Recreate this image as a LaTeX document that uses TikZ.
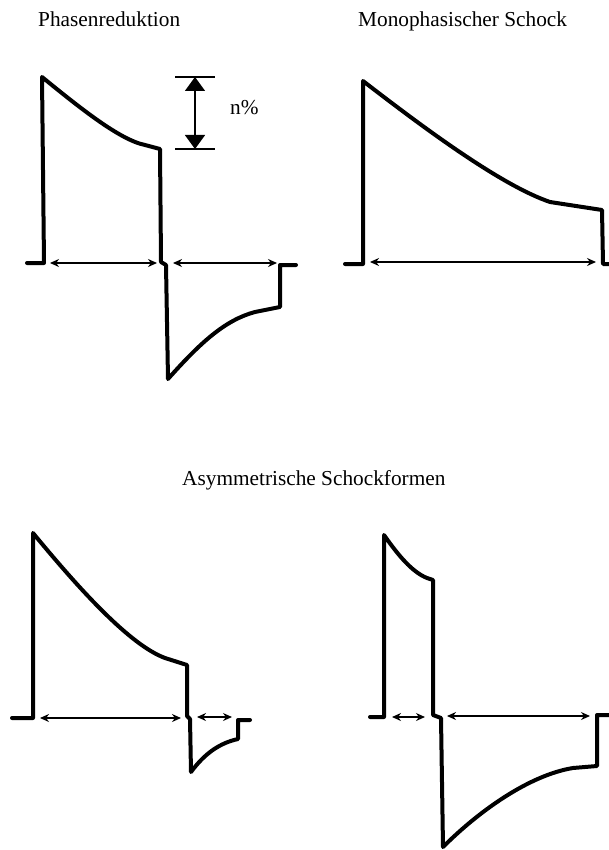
\documentclass[tikz,border=0pt]{standalone}
\usepackage{fontspec}
\setmainfont{Liberation Serif}
\usetikzlibrary{arrows.meta}
\begin{document}
\begin{tikzpicture}[x=1pt,y=-1pt,
  wave/.style={line width=4pt,line join=round,line cap=round},
  dur/.style={line width=1.4pt,{Stealth[length=9pt,width=8pt]}-{Stealth[length=9pt,width=8pt]}},
  ampl/.style={line width=1.4pt,{Triangle[length=14pt,width=20pt]}-{Triangle[length=14pt,width=20pt]}},
  bar/.style={line width=1.4pt},
  title/.style={inner sep=0pt,anchor=base west,font=\fontsize{21.3}{23}\selectfont}]
\useasboundingbox (0,0) rectangle (608,850);

% titles
\node[title] (t1) at (38,27) {Phasenreduktion};
\node[title] (t2) at (358,27) {Monophasischer Schock};
\node[title] (t3) at (182,485) {Asymmetrische Schockformen};

% ---- Panel 1: Phasenreduktion
\draw[wave] (27,263) -- (44,263) -- (42,77)
  .. controls (80,108) and (120,140) .. (145,145) -- (160,149)
  -- (161,262) -- (166,265) -- (168,379)
  .. controls (200,343) and (225,320) .. (255,312) -- (280,307)
  -- (280,265) -- (296,265);
\coordinate (p1a) at (50,263);
\coordinate (p1b) at (157,263);
\coordinate (p1c) at (173,263);
\coordinate (p1d) at (277,263);
\draw[dur] (p1a) -- (p1b);
\draw[dur] (p1c) -- (p1d);
% amplitude marker
\coordinate (nt) at (195,77);
\coordinate (nb) at (195,149);
\draw[bar] (175,77) -- (215,77);
\draw[bar] (175,149) -- (215,149);
\draw[ampl] (nt) -- (nb);
\node[title] (np) at (230,115) {n\%};

% ---- Panel 2: Monophasischer Schock
\draw[wave] (345,264) -- (363,264) -- (363,81)
  .. controls (420,125) and (500,185) .. (550,202) -- (602,210)
  -- (603,264) -- (612,264);
\coordinate (p2a) at (370,262);
\coordinate (p2b) at (596,262);
\draw[dur] (p2a) -- (p2b);

% ---- Panel 3
\draw[wave] (12,718) -- (33,718) -- (33,533)
  .. controls (80,590) and (130,645) .. (165,658) -- (187,665)
  -- (187,716) -- (190,719) -- (191,772)
  .. controls (205,753) and (220,743) .. (238,739)
  -- (238,720) -- (250,720);
\coordinate (p3a) at (40,718);
\coordinate (p3b) at (181,718);
\coordinate (p3c) at (197,717);
\coordinate (p3d) at (232,717);
\draw[dur] (p3a) -- (p3b);
\draw[dur] (p3c) -- (p3d);

% ---- Panel 4
\draw[wave] (370,717) -- (384,717) -- (384,535)
  .. controls (398,555) and (412,572) .. (427,578) -- (433,580)
  -- (433,715) -- (441,718) -- (443,847)
  .. controls (480,810) and (530,775) .. (573,768) -- (597,766)
  -- (597,715) -- (612,715);
\coordinate (p4a) at (392,717);
\coordinate (p4b) at (425,717);
\coordinate (p4c) at (447,716);
\coordinate (p4d) at (590,716);
\draw[dur] (p4a) -- (p4b);
\draw[dur] (p4c) -- (p4d);
\end{tikzpicture}
\end{document}
